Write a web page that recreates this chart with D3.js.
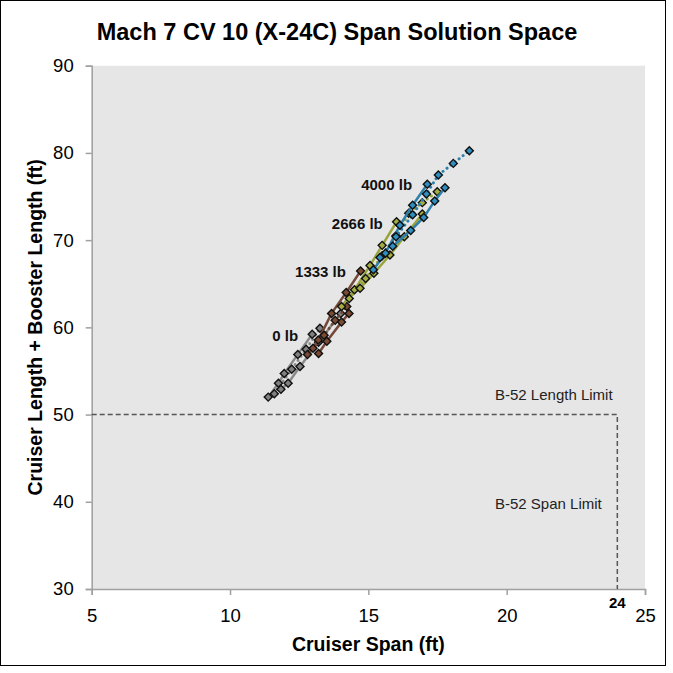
<!DOCTYPE html>
<html><head><meta charset="utf-8">
<script src="https://d3js.org/d3.v7.min.js"></script>
<style>body{margin:0;background:#fff}svg{display:block;font-family:"Liberation Sans",Arial,sans-serif}</style>
</head><body><svg id="c" width="673" height="673"></svg>
<script>
// ---- data ----
const xTicks = [5, 10, 15, 20, 25];
const yTicks = [30, 40, 50, 60, 70, 80, 90];
const payloads = ["0 lb", "1333 lb", "2666 lb", "4000 lb"];
const gray0 = [
  [[11.38,52.0],[11.75,53.6],[11.96,54.7],[12.45,56.9],[12.97,59.2]],
  [[11.6,52.4],[12.23,55.2],[12.75,57.5],[13.25,59.9]],
  [[11.84,52.9],[12.1,53.6],[12.53,55.5],[13.2,58.3],[14.0,61.6]]
];
const brown1333 = [
  [[12.8,56.9],[13.19,58.55],[13.67,61.6],[14.2,64.0],[14.72,66.46]],
  [[13.0,57.6],[13.4,59.1],[13.8,60.8],[14.22,62.4]],
  [[13.2,57.0],[13.5,58.4],[14.03,60.6],[14.3,61.6]]
];
const olive2666 = [
  [[14.03,62.4],[14.5,64.3],[15.06,67.1],[15.5,69.4],[16.02,72.1]],
  [[14.31,63.3],[14.9,65.6],[15.5,68.2],[16.0,70.5],[16.46,73.07],[16.95,74.3],[17.49,75.55]],
  [[14.7,64.47],[15.2,66.2],[15.78,68.3],[16.3,70.4],[16.95,73.0]]
];
const blue4000 = [
  [[15.18,66.6],[15.62,68.5],[16.14,71.7],[16.6,74.0],[17.13,76.4]],
  [[15.42,68.0],[16.0,70.4],[16.6,72.9],[17.1,75.3],[17.53,77.47],[18.07,78.8],[18.65,80.25]],
  [[15.88,69.3],[16.53,71.1],[17.0,72.6],[17.4,74.5],[17.77,76.0]]
];
const groups = [gray0, brown1333, olive2666, blue4000];
const dottedLine = [false, true, false]; // middle line of each group dotted
const labelPos = [[12.46,59.12],[14.19,66.38],[15.52,71.93],[16.58,76.4]];
const lengthLimit = 50, spanLimit = 24;

// ---- styles ----
const colors = ["#8a8a8a", "#74493a", "#99a33b", "#2e80aa"];
const markerFill = ["#808080", "#7b4a33", "#a4ad3e", "#2f8fc0"];

const svg = d3.select("#c");
const L = 91.7, R = 645, T = 65.7, B = 589;
const x = d3.scaleLinear().domain([5, 25]).range([L, R]);
const y = d3.scaleLinear().domain([30, 90]).range([B, T]);

svg.append("rect").attr("x",0.5).attr("y",0.5).attr("width",665).attr("height",665)
  .attr("fill","#fff").attr("stroke","#000").attr("stroke-width",1);
svg.append("rect").attr("x",L).attr("y",T).attr("width",R-L).attr("height",B-T).attr("fill","#e6e6e6");

// axes
const xa = svg.append("g").attr("transform",`translate(0,${B})`)
  .call(d3.axisBottom(x).tickValues(xTicks).tickSize(6).tickPadding(14).tickFormat(d3.format("d")));
const ya = svg.append("g").attr("transform",`translate(${L},0)`)
  .call(d3.axisLeft(y).tickValues(yTicks).tickSize(6).tickPadding(12).tickFormat(d3.format("d")));
[xa, ya].forEach(a => {
  a.select(".domain").attr("stroke","#a0a0a0").attr("stroke-width",1.5);
  a.selectAll(".tick line").attr("stroke","#a0a0a0").attr("stroke-width",1.5);
  a.selectAll(".tick text").attr("fill","#000").style("font-size","18.5px").style("font-family","Liberation Sans, Arial, sans-serif");
});

// limits
svg.append("path")
  .attr("d", `M${x(5)},${y(lengthLimit)}H${x(spanLimit)}V${y(30)}`)
  .attr("fill","none").attr("stroke","#555").attr("stroke-width",1.5).attr("stroke-dasharray","5,3");
svg.append("text").attr("x", 495).attr("y", 400).text("B-52 Length Limit")
  .style("font-size","15px").attr("fill","#222");
svg.append("text").attr("x", 495).attr("y", 509).text("B-52 Span Limit")
  .style("font-size","15px").attr("fill","#222");
svg.append("text").attr("x", x(spanLimit)).attr("y", B+19).attr("text-anchor","middle")
  .text("24").style("font-size","15px").style("font-weight","bold");

// series
const line = d3.line().x(d => x(d[0])).y(d => y(d[1]));
const sym = d3.symbol().type(d3.symbolSquare).size(32);
groups.forEach((g, gi) => {
  const gg = svg.append("g");
  g.forEach((ln, li) => {
    gg.append("path").attr("d", line(ln)).attr("fill","none")
      .attr("stroke", colors[gi]).attr("stroke-width", dottedLine[li] ? 3 : 2.5)
      .attr("stroke-linecap", dottedLine[li] ? "round" : "butt")
      .attr("stroke-dasharray", dottedLine[li] ? "0.1,5" : null);
  });
  g.forEach(ln => {
    gg.selectAll(null).data(ln).join("path")
      .attr("d", sym)
      .attr("transform", d => `translate(${x(d[0])},${y(d[1])}) rotate(45)`)
      .attr("fill", markerFill[gi]).attr("stroke","#111").attr("stroke-width",1.4);
  });
});
payloads.forEach((p, i) => {
  svg.append("text").attr("x", x(labelPos[i][0])).attr("y", y(labelPos[i][1]) + 5.5)
    .attr("text-anchor","end").text(p).style("font-size","15px").style("font-weight","bold").attr("fill","#111");
});

// titles
svg.append("text").attr("x", 337).attr("y", 40).attr("text-anchor","middle")
  .text("Mach 7 CV 10 (X-24C) Span Solution Space").style("font-size","23.5px").style("font-weight","bold");
svg.append("text").attr("x", (L+R)/2).attr("y", 651).attr("text-anchor","middle")
  .text("Cruiser Span (ft)").style("font-size","19.5px").style("font-weight","bold");
svg.append("text").attr("transform", `translate(42,${(T+B)/2}) rotate(-90)`).attr("text-anchor","middle")
  .text("Cruiser Length + Booster Length (ft)").style("font-size","19.5px").style("font-weight","bold");
</script></body></html>
